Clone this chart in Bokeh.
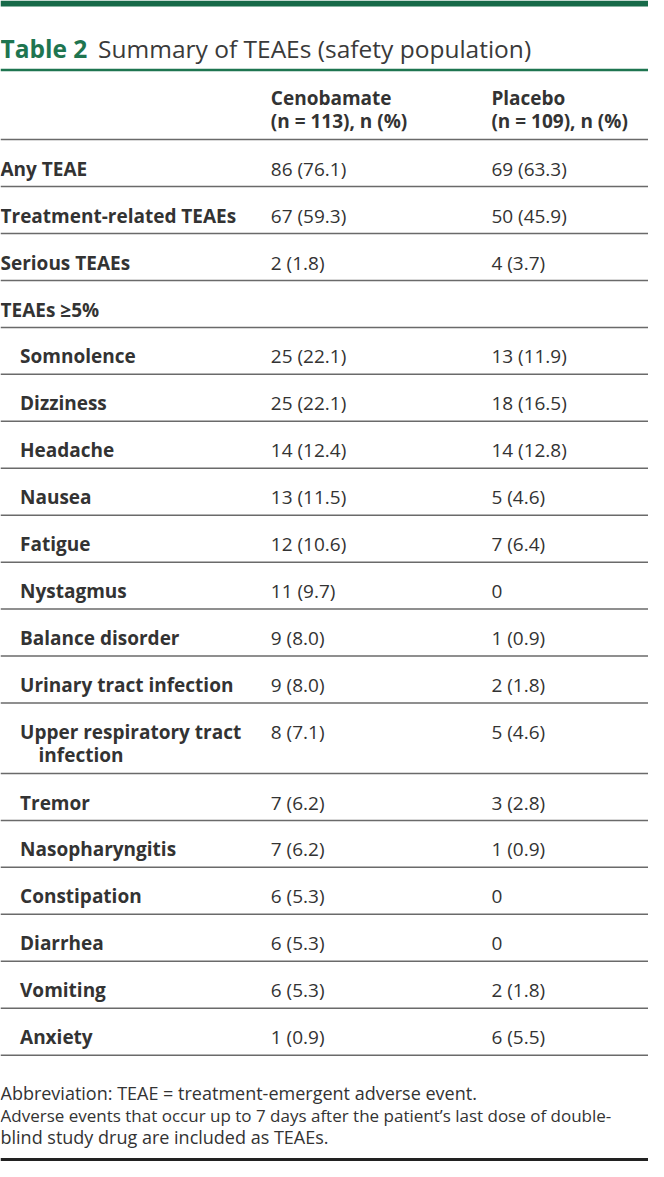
from bokeh.plotting import figure
from bokeh.models import Range1d, ColumnDataSource
from bokeh.core.properties import value
from bokeh.embed import file_html
from bokeh.resources import INLINE

# ---------------- data ----------------
title_bold = "Table 2"
title_rest = "Summary of TEAEs (safety population)"
header_ceno = ["Cenobamate", "(n = 113), n (%)"]
header_placebo = ["Placebo", "(n = 109), n (%)"]

labels = ["Any TEAE", "Treatment-related TEAEs", "Serious TEAEs", "TEAEs \u22655%",
          "Somnolence", "Dizziness", "Headache", "Nausea", "Fatigue", "Nystagmus",
          "Balance disorder", "Urinary tract infection",
          "Upper respiratory tract\ninfection",
          "Tremor", "Nasopharyngitis", "Constipation", "Diarrhea", "Vomiting", "Anxiety"]
indent = [0, 0, 0, 0, 1, 1, 1, 1, 1, 1, 1, 1, 1, 1, 1, 1, 1, 1, 1]
ceno = ["86 (76.1)", "67 (59.3)", "2 (1.8)", "",
        "25 (22.1)", "25 (22.1)", "14 (12.4)", "13 (11.5)", "12 (10.6)", "11 (9.7)",
        "9 (8.0)", "9 (8.0)", "8 (7.1)", "7 (6.2)", "7 (6.2)", "6 (5.3)", "6 (5.3)",
        "6 (5.3)", "1 (0.9)"]
placebo = ["69 (63.3)", "50 (45.9)", "4 (3.7)", "",
           "13 (11.9)", "18 (16.5)", "14 (12.8)", "5 (4.6)", "7 (6.4)", "0",
           "1 (0.9)", "2 (1.8)", "5 (4.6)", "3 (2.8)", "1 (0.9)", "0", "0",
           "2 (1.8)", "6 (5.5)"]
footnotes = ["Abbreviation: TEAE = treatment-emergent adverse event.",
             "Adverse events that occur up to 7 days after the patient\u2019s last dose of double-",
             "blind study drug are included as TEAEs."]

# ---------------- layout / style ----------------
W, H = 664, 1177
FONT = "Open Sans"
TXT = "#333333"
GREEN = "#1e7550"
BAR = "#176a49"
body_size = "19px"
X_COL = [0, 277, 503]
INDENT = 20
ROW_H = 47.6
TOP_LINE = 141
BASE_OFF = 29.5
LINE2_OFF = 23.5

p = figure(width=648, height=1161, output_backend="svg", toolbar_location=None,
           x_range=Range1d(0, W), y_range=Range1d(H, 0),
           min_border=0, min_border_left=0, min_border_right=0,
           min_border_top=0, min_border_bottom=0)
p.axis.visible = False
p.grid.visible = False
p.outline_line_color = None
p.background_fill_color = "white"
p.border_fill_color = "white"

# top green bar
p.quad(left=[0], right=[W], top=[0], bottom=[6], fill_color=BAR, line_color=None)

# title
p.text(x=[0], y=[49], text=[title_bold], text_font=value(FONT), text_font_size="24.5px",
       text_font_style="bold", text_color=GREEN, text_baseline="alphabetic")
p.text(x=[100], y=[49], text=[title_rest], text_font=value(FONT), text_font_size="24.5px",
       text_color="#3a3a3a", text_baseline="alphabetic")
# rule under title
p.segment(x0=[0], y0=[70.5], x1=[W], y1=[70.5], line_color=GREEN, line_width=2.5)

# header
for xi, hdr in zip(X_COL[1:], [header_ceno, header_placebo]):
    p.text(x=[xi, xi], y=[99, 122], text=hdr, text_font=value(FONT),
           text_font_size=body_size, text_font_style="bold", text_color=TXT,
           text_baseline="alphabetic")

# rows
lines_y = [TOP_LINE]
lx, ly, lt = [], [], []
cx, cy, ct = [], [], []
y = TOP_LINE
for lab, ind, c, pl in zip(labels, indent, ceno, placebo):
    parts = lab.split("\n")
    h = ROW_H * (1.5 if len(parts) > 1 else 1.0)
    base = y + BASE_OFF
    for k, part in enumerate(parts):
        lx.append(ind * INDENT + (19 if k > 0 else 0))
        ly.append(base + k * LINE2_OFF)
        lt.append(part)
    cx += [X_COL[1], X_COL[2]]
    cy += [base, base]
    ct += [c, pl]
    y += h
    lines_y.append(y)

p.text(x="x", y="y", text="t", source=ColumnDataSource(dict(x=lx, y=ly, t=lt)),
       text_font=value(FONT), text_font_size=body_size, text_font_style="bold",
       text_color=TXT, text_baseline="alphabetic")
p.text(x="x", y="y", text="t", source=ColumnDataSource(dict(x=cx, y=cy, t=ct)),
       text_font=value(FONT), text_font_size=body_size, text_color=TXT,
       text_baseline="alphabetic")

n = len(lines_y)
p.segment(x0=[0] * n, y0=lines_y, x1=[W] * n, y1=lines_y, line_color="#6a6a6a",
          line_width=1.5)

# footnotes
fy = [1108, 1130, 1152]
fs = ["18px", "17px", "18px"]
for t, yy, s in zip(footnotes, fy, fs):
    p.text(x=[0], y=[yy], text=[t], text_font=value(FONT), text_font_size=s,
           text_color=TXT, text_baseline="alphabetic")

# bottom rule
p.segment(x0=[0], y0=[1175], x1=[W], y1=[1175], line_color="#222222", line_width=3)

open("out.html", "w").write(file_html(p, INLINE))
